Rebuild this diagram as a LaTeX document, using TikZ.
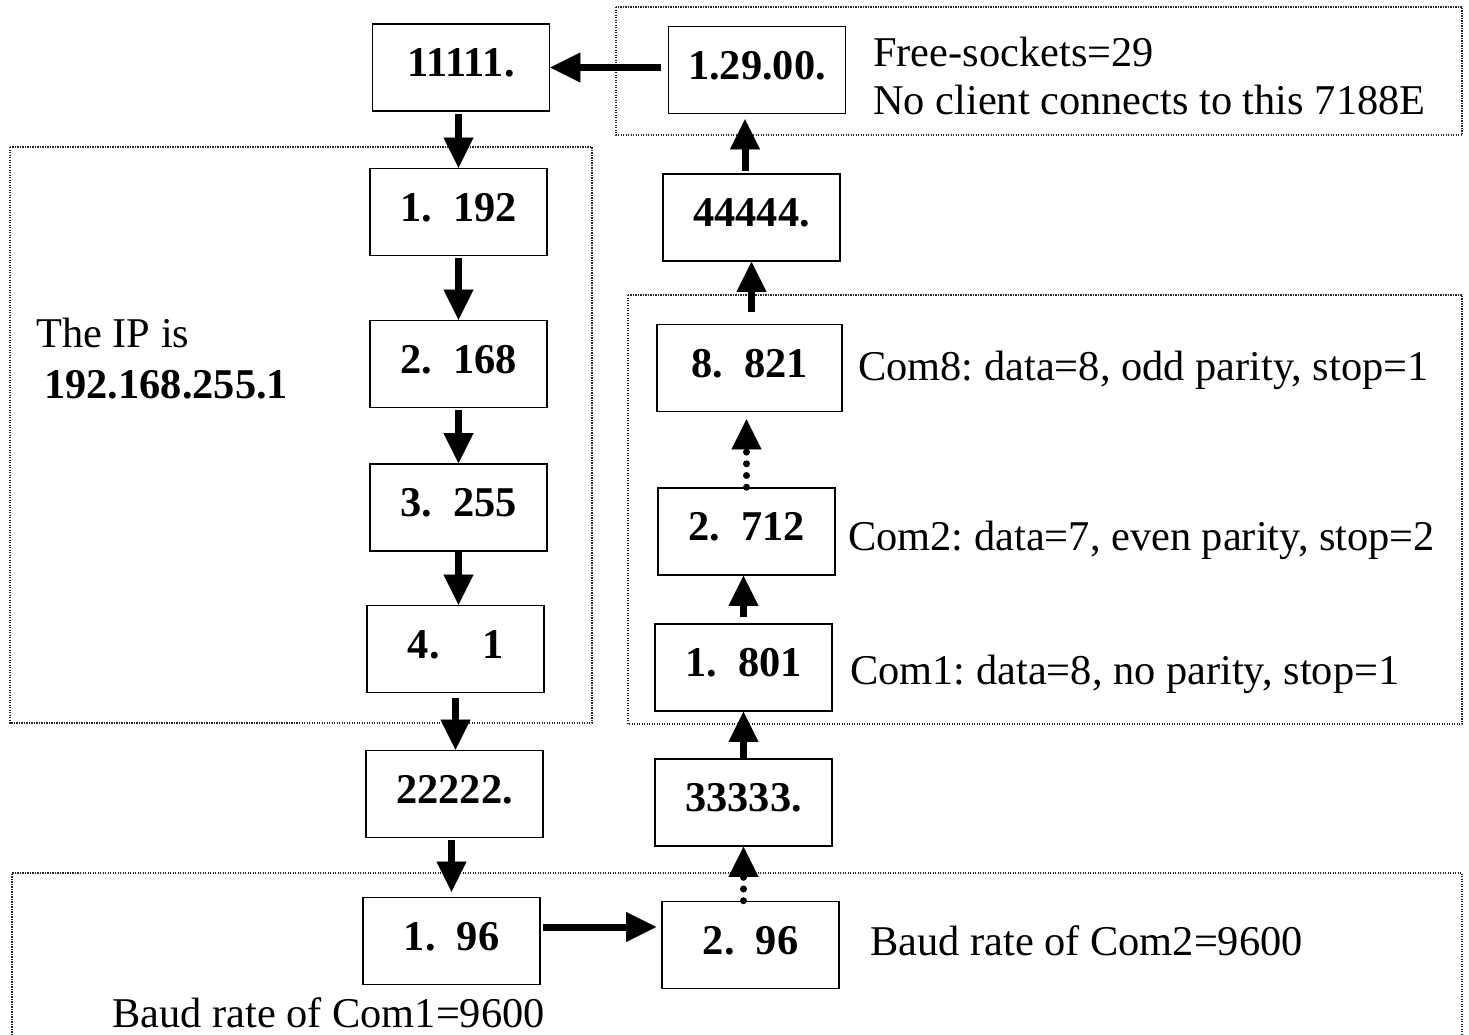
\documentclass[tikz,border=0pt]{standalone}
\usepackage{fontspec}
\setmainfont{Liberation Serif}
\usetikzlibrary{arrows.meta}
\begin{document}
\frenchspacing
\begin{tikzpicture}[x=1pt,y=-1pt,
  flowbox/.style={draw, line width=1.6pt, minimum width=177pt, minimum height=87pt, inner sep=0pt,
    font=\fontsize{42.4}{50}\selectfont\bfseries, text height=28.7pt, text depth=10pt},
  grouprect/.style={draw=black!85, line width=1.2pt, dash pattern=on 1.2pt off 1.3pt},
  arr/.style={line width=7pt, -{Triangle[width=30pt,length=30pt,line width=0.01pt]}},
  dotarr/.style={arr, line cap=round, dash pattern=on 0pt off 11.7pt},
  note/.style={anchor=base west, inner sep=0pt, font=\fontsize{42.4}{50}\selectfont},
]
\useasboundingbox (0,0) rectangle (1469,1034);
% group frames
\draw[grouprect] (616,7) rectangle (1462,135);
\draw[grouprect] (10,147) rectangle (592,723);
\draw[grouprect] (628,295) rectangle (1462,724);
\draw[grouprect] (12,1040) -- (12,873) -- (1462,873) -- (1462,1040);
% boxes
\node[flowbox] (n11111) at (461,67.5) {11111.\hspace{19pt}};
\node[flowbox] (n12900) at (757,70) {1.29.00.};
\node[flowbox] (n44444) at (751.5,217.5) {44444.\hspace{19pt}};
\node[flowbox] (n192) at (458.5,212) {1.~~192};
\node[flowbox] (n168) at (458.5,364) {2.~~168};
\node[flowbox] (n255) at (458.5,507.5) {3.~~255};
\node[flowbox] (n1) at (455.5,649) {4.~~~~1};
\node[flowbox] (n22222) at (454.5,794) {22222.\hspace{19pt}};
\node[flowbox] (n196) at (451.5,941) {1.~~96};
\node[flowbox] (n296) at (750.5,945) {2.~~96};
\node[flowbox] (n33333) at (743.5,802.5) {33333.\hspace{19pt}};
\node[flowbox] (n801) at (743.5,667.5) {1.~~801};
\node[flowbox] (n712) at (746.5,531.5) {2.~~712};
\node[flowbox, minimum width=185pt] (n821) at (749.5,368) {8.~~821};
% texts
\node[note] (t1) at (873,66) {Free-sockets=29};
\node[note] (t2) at (873,114) {No client connects to this 7188E};
\node[note] (t3) at (36,347) {The IP is};
\node[note, font=\fontsize{42.4}{50}\selectfont\bfseries] (t4) at (44,398) {192.168.255.1};
\node[note] (t5) at (858,380) {Com8: data=8, odd parity, stop=1};
\node[note] (t6) at (848,550) {Com2: data=7, even parity, stop=2};
\node[note] (t7) at (850,684) {Com1: data=8, no parity, stop=1};
\node[note] (t8) at (870,955) {Baud rate of Com2=9600};
\node[note] (t9) at (112,1027) {Baud rate of Com1=9600};
% arrows
\draw[arr, shorten <=7pt] (n12900.west |- n11111) -- (n11111.east);
\draw[arr, shorten <=2pt] (n11111.south -| n192.north) -- (n192.north);
\draw[arr, shorten <=2pt] (n192.south) -- (n168.north);
\draw[arr, shorten <=2pt] (n168.south) -- (n255.north);
\draw[arr] (n255.south) -- (n255.south |- n1.north);
\draw[arr, shorten <=5pt] (n1.south) -- (n1.south |- n22222.north);
\draw[arr, shorten <=2pt, shorten >=5pt] (n22222.south -| n196.north) -- (n196.north);
\draw[arr, shorten <=2pt, shorten >=5pt] ([yshift=14pt]n196.east) -- ([yshift=14pt]n196.east -| n296.west);
\draw[dotarr] (n296.north -| n33333.south) -- (n33333.south);
\draw[arr] (n33333.north) -- (n801.south);
\draw[arr, shorten <=6pt] (n801.north) -- (n801.north |- n712.south);
\draw[dotarr, shorten >=7pt] (n712.north) -- (n712.north |- n821.south);
\draw[arr, shorten <=12pt] (n821.north -| n44444.south) -- (n44444.south);
\draw[arr, shorten <=2pt, shorten >=5pt] (n44444.north -| 745,0) -- (745,0 |- n12900.south);
\end{tikzpicture}
\end{document}
